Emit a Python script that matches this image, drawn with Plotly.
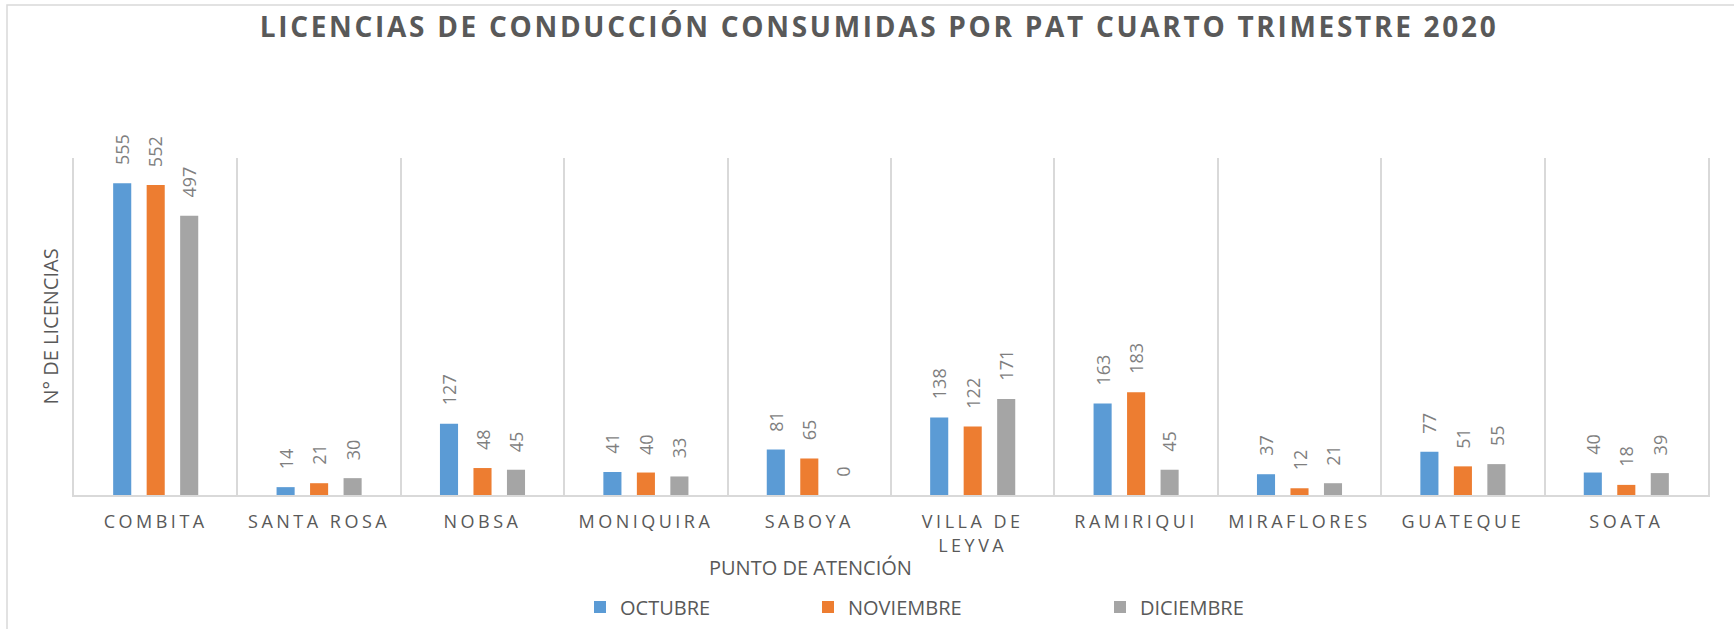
import plotly.graph_objects as go

categories = ["COMBITA", "SANTA ROSA", "NOBSA", "MONIQUIRA", "SABOYA",
              "VILLA DE<br>LEYVA", "RAMIRIQUI", "MIRAFLORES", "GUATEQUE", "SOATA"]
octubre = [555, 14, 127, 41, 81, 138, 163, 37, 77, 40]
noviembre = [552, 21, 48, 40, 65, 122, 183, 12, 51, 18]
diciembre = [497, 30, 45, 33, 0, 171, 45, 21, 55, 39]
series_names = ["OCTUBRE", "NOVIEMBRE", "DICIEMBRE"]
series_colors = ["#5B9BD5", "#ED7D31", "#A5A5A5"]
series_values = [octubre, noviembre, diciembre]
legend_ids = ["legend", "legend2", "legend3"]

W, H = 1734, 629
L, R, T, B = 74, 26, 158, 134
FONT = "Open Sans"
TXT = "#595959"
GRID = "#D9D9D9"

fig = go.Figure()
for name, color, vals, lg in zip(series_names, series_colors, series_values, legend_ids):
    fig.add_trace(go.Bar(x=categories, y=vals, name=name, marker_color=color,
                         marker_line_width=0, legend=lg, showlegend=True))

pw = W - L - R
ph = H - T - B

# data labels (rotated) as annotations anchored at bar tops
slot = pw / len(categories) * (1 - 0.385) / 3
annotations = []
for i, vals in enumerate(series_values):
    for c, v in zip(categories, vals):
        annotations.append(dict(x=c, y=v, xref="x", yref="y", text=str(v),
                                showarrow=False, textangle=-90,
                                xanchor="center", yanchor="bottom",
                                xshift=(i - 1) * slot, yshift=16,
                                font=dict(family=FONT, size=18, color="#7F7F7F")))

annotations.append(dict(text="PUNTO DE ATENCIÓN", xref="paper", yref="paper",
                        x=(810 - L) / pw, y=(H - B - 567) / ph, showarrow=False,
                        xanchor="center", yanchor="middle",
                        font=dict(family=FONT, size=20, color=TXT)))

def legend_at(xpx):
    return dict(orientation="h", xref="container", yref="container",
                x=xpx / W, xanchor="left", y=1 - 607 / H, yanchor="middle",
                font=dict(family=FONT, size=20, color=TXT),
                bgcolor="rgba(0,0,0,0)")

fig.update_layout(
    width=W, height=H,
    showlegend=True,
    margin=dict(l=L, r=R, t=T, b=B, autoexpand=False),
    paper_bgcolor="white", plot_bgcolor="white",
    barmode="group", bargap=0.385, bargroupgap=0.46,
    title=dict(text="<b>LICENCIAS DE CONDUCCIÓN CONSUMIDAS POR PAT CUARTO TRIMESTRE 2020</b>",
               x=879 / W, xref="container", xanchor="center",
               y=1 - 27 / H, yref="container", yanchor="middle",
               font=dict(family=FONT, size=28, color=TXT)),
    xaxis=dict(showgrid=True, gridcolor=GRID, gridwidth=1.5,
               tickson="boundaries", ticks="", showline=True,
               linecolor=GRID, linewidth=1.5, automargin=False,
               tickfont=dict(family=FONT, size=18, color=TXT),
               ticklabelstandoff=10),
    yaxis=dict(range=[0, 600], showgrid=False, zeroline=False,
               showticklabels=False, ticks="", automargin=False,
               showline=True, mirror=True, linecolor=GRID, linewidth=1.5,
               title=dict(text="N° DE LICENCIAS", standoff=8,
                          font=dict(family=FONT, size=20, color=TXT))),
    legend=legend_at(580),
    legend2=legend_at(808),
    legend3=legend_at(1100),
    annotations=annotations,
    shapes=[dict(type="rect", xref="paper", yref="paper",
                 x0=(7 - L) / pw, x1=1.2, y0=-0.6, y1=(H - B - 5) / ph,
                 line=dict(color=GRID, width=1.5), layer="below")],
)

post = """
document.body.style.margin = '0';
document.body.style.padding = '0';
var gd = document.getElementById('{plot_id}');
function sp(){
  gd.querySelectorAll('.xtick text').forEach(function(t){t.style.letterSpacing='3.5px';});
  var tt = gd.querySelector('.gtitle'); if(tt){tt.style.letterSpacing='2.7px';}
}
sp();
gd.on('plotly_afterplot', sp);
"""
fig.write_html("out.html", post_script=post, config={"displayModeBar": False})
